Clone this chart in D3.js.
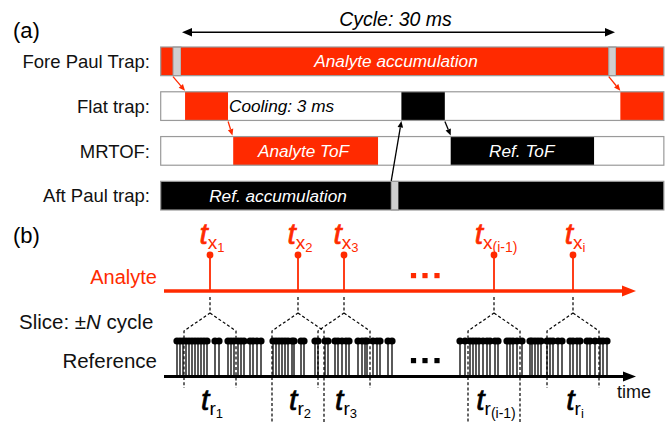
<!DOCTYPE html>
<html><head><meta charset="utf-8">
<script src="https://cdn.jsdelivr.net/npm/d3@7"></script>
<style>body{margin:0;background:#fff} svg{display:block;font-family:"Liberation Sans",Arial,sans-serif}</style>
</head><body><svg id="c" width="672" height="422"></svg>
<script>
// ---------- data: (a) timing scheme, times in ms ----------
const rows = ["Fore Paul Trap:", "Flat trap:", "MRTOF:", "Aft Paul trap:"];
const cycleMs = [0, 30];
const timeSpan = [-1.4, 33.3];
// [start, end, kind]  r=red(analyte) k=black(reference) g=gray(transfer) w=idle
const foreSegs  = [[-1.4,-0.55,"r"],[-0.55,0,"g"],[0,29.5,"r"],[29.5,30,"g"],[30,33.3,"r"]];
const flatSegs  = [[-1.4,0.28,"w"],[0.28,3.25,"r"],[3.25,15.2,"w"],[15.2,18.2,"k"],[18.2,30.3,"w"],[30.3,33.3,"r"]];
const mrtofSegs = [[-1.4,3.6,"w"],[3.6,13.6,"r"],[13.6,18.6,"w"],[18.6,28.5,"k"],[28.5,33.3,"w"]];
const aftSegs   = [[-1.4,14.5,"k"],[14.5,15,"g"],[15,33.3,"k"]];
// [row, time, text, anchor, color]
const barLabels = [[0,14.83,"Analyte accumulation","middle","w"],[1,3.31,"Cooling: 3 ms","start","k"],
                   [2,8.45,"Analyte ToF","middle","w"],[2,23.5,"Ref. ToF","middle","w"],[3,6.69,"Ref. accumulation","middle","w"]];
// [fromRow, fromTime, toRow, toTime, color]
const transfers = [[0,-0.55,1,0.28,"r"],[1,3.25,2,3.55,"r"],[0,29.5,1,30.3,"r"],[3,14.5,1,15.2,"k"],[1,18.2,2,18.6,"k"]];

// ---------- data: (b) analyte / reference events (arbitrary time units) ----------
const timeAxis = [0, 47.2];
const analyteTimes = [4.6, 13.4, 18.0, 33.0, 40.9];
const analyteIdx = ["1", "2", "3", "(i-1)", "i"];
const refTimes = [1.3,1.6,1.9,2.2,2.5,2.8,3.1,3.4,3.7,4.0,4.3,5.1,5.5,6.4,6.7,7.0,7.4,7.7,8.0,8.6,8.9,9.3,9.7,
  10.9,11.2,11.5,11.8,12.1,12.4,12.8,13.0,13.7,14.0,15.1,15.4,16.1,16.4,17.1,17.4,17.8,18.2,18.5,19.4,19.8,20.1,20.3,20.9,21.3,21.6,22.4,22.8,
  29.6,30.1,30.6,30.9,31.2,31.5,31.9,32.3,32.6,33.1,33.4,34.3,34.6,34.9,35.3,35.8,
  36.6,36.8,37.1,37.4,37.7,38.3,38.6,38.9,39.4,39.8,40.6,40.9,41.3,41.6,42.3,42.6,43.1,43.6,43.9,44.3];
const sliceHalf = 2.6;
const ellipsis = [24.95, 26.1, 27.3];

// ---------- drawing ----------
const RED = "#ff2a00";
const col = {r: RED, k: "#000", g: "#cfcfcf", w: "#fff"};
const svg = d3.select("#c");
const xA = d3.scaleLinear().domain(cycleMs).range([181, 616]);
const yA = d3.scaleBand().domain(d3.range(rows.length)).range([47, 210]).paddingInner(0.36);
const bw = yA.bandwidth();

svg.append("text").attr("x", 13).attr("y", 38).attr("font-size", 22).text("(a)");

function arrowHead(g, x, y, dir, len, half, color) {
  g.append("path").attr("d", `M${x},${y}L${x - dir*len},${y-half}L${x - dir*len},${y+half}Z`).attr("fill", color);
}
const cy = 32.3;
svg.append("line").attr("x1", xA(cycleMs[0]) + 6).attr("x2", xA(cycleMs[1]) - 6).attr("y1", cy).attr("y2", cy)
  .attr("stroke", "#000").attr("stroke-width", 1.6);
arrowHead(svg, xA(cycleMs[0]) + 1, cy, -1, 10, 4.2, "#000");
arrowHead(svg, xA(cycleMs[1]) - 1, cy, 1, 10, 4.2, "#000");
svg.append("text").attr("x", xA(15) - 3).attr("y", 26).attr("text-anchor", "middle")
  .attr("font-size", 19.5).attr("font-style", "italic").text("Cycle: 30 ms");

const allSegs = [foreSegs, flatSegs, mrtofSegs, aftSegs];
allSegs.forEach((segs, i) => {
  const g = svg.append("g");
  g.selectAll("rect").data(segs).join("rect")
    .attr("x", d => xA(d[0])).attr("width", d => xA(d[1]) - xA(d[0]))
    .attr("y", yA(i)).attr("height", bw)
    .attr("fill", d => col[d[2]])
    .attr("stroke", d => d[2] === "g" ? "#9a9a9a" : "none").attr("stroke-width", 1);
  g.append("rect").attr("x", xA(timeSpan[0])).attr("width", xA(timeSpan[1]) - xA(timeSpan[0]))
    .attr("y", yA(i)).attr("height", bw).attr("fill", "none").attr("stroke", "#9a9a9a").attr("stroke-width", 1.2);
  svg.append("text").attr("x", 150).attr("y", yA(i) + bw/2 + 6.7).attr("text-anchor", "end")
    .attr("font-size", 18.5).attr("fill", "#111").text(rows[i]);
});

svg.selectAll("text.bl").data(barLabels).join("text").attr("class", "bl")
  .attr("x", d => xA(d[1])).attr("y", d => yA(d[0]) + bw/2 + 6)
  .attr("text-anchor", d => d[3]).attr("font-size", 17.2).attr("font-style", "italic")
  .attr("fill", d => d[4] === "w" ? "#fff" : "#000").text(d => d[2]);

transfers.forEach(d => {
  const down = d[2] > d[0];
  const x1 = xA(d[1]), x2 = xA(d[3]);
  const y1 = down ? yA(d[0]) + bw + 1 : yA(d[0]) - 0.5;
  const y2 = down ? yA(d[2]) - 1 : yA(d[2]) + bw + 0.5;
  const c = col[d[4]];
  const ang = Math.atan2(y2 - y1, x2 - x1), L = 6.5, H = 2.8;
  const bx = x2 - L*Math.cos(ang), by = y2 - L*Math.sin(ang);
  svg.append("line").attr("x1", x1).attr("y1", y1).attr("x2", bx).attr("y2", by)
    .attr("stroke", c).attr("stroke-width", 1.3);
  svg.append("path").attr("fill", c).attr("d",
    `M${x2},${y2}L${bx + H*Math.sin(ang)},${by - H*Math.cos(ang)}L${bx - H*Math.sin(ang)},${by + H*Math.cos(ang)}Z`);
});

// ---------- (b) ----------
const xB = d3.scaleLinear().domain(timeAxis).range([164, 636]);
const yAnaAxis = 291, yAnaDot = 255, yRefAxis = 376.5, yRefDot = 341;
svg.append("text").attr("x", 13).attr("y", 243).attr("font-size", 22).text("(b)");
svg.append("text").attr("x", 157).attr("y", 283.5).attr("text-anchor", "end").attr("font-size", 20).attr("fill", RED).text("Analyte");
const sl = svg.append("text").attr("x", 19).attr("y", 329).attr("font-size", 20.5).attr("fill", "#111");
sl.append("tspan").text("Slice: ±");
sl.append("tspan").attr("font-style", "italic").text("N");
sl.append("tspan").text(" cycle");
svg.append("text").attr("x", 157).attr("y", 368).attr("text-anchor", "end").attr("font-size", 20.5).attr("fill", "#111").text("Reference");
svg.append("text").attr("x", 617).attr("y", 398).attr("font-size", 18).attr("fill", "#111").text("time");

svg.append("line").attr("x1", xB(timeAxis[0])).attr("x2", xB(timeAxis[1]) - 10).attr("y1", yAnaAxis).attr("y2", yAnaAxis)
  .attr("stroke", RED).attr("stroke-width", 3.4);
arrowHead(svg, xB(timeAxis[1]), yAnaAxis, 1, 14, 5.5, RED);
svg.selectAll("line.as").data(analyteTimes).join("line").attr("class", "as")
  .attr("x1", d => xB(d)).attr("x2", d => xB(d)).attr("y1", yAnaDot).attr("y2", yAnaAxis)
  .attr("stroke", RED).attr("stroke-width", 1.8);
svg.selectAll("circle.ad").data(analyteTimes).join("circle").attr("class", "ad")
  .attr("cx", d => xB(d)).attr("cy", yAnaDot).attr("r", 3.4).attr("fill", RED);

function tLabel(x, y, sub, idx, color) {
  const t = svg.append("text").attr("x", x).attr("y", y).attr("text-anchor", "middle").attr("fill", color);
  t.append("tspan").attr("font-style", "italic").attr("font-size", 30)
    .attr("stroke", color).attr("stroke-width", 0.7).text("t");
  t.append("tspan").attr("font-size", 19).attr("dy", 5).text(sub);
  t.append("tspan").attr("font-size", idx.length > 1 ? 14 : 13).attr("dy", 3).text(idx);
}
analyteTimes.forEach((d, i) => {
  tLabel(xB(d) + 2, 244, "x", analyteIdx[i], RED);
  tLabel(xB(d) + 2, 410, "r", analyteIdx[i], "#000");
});

ellipsis.forEach(e => {
  svg.append("rect").attr("x", xB(e) - 2.6).attr("y", 273).attr("width", 5.2).attr("height", 5.2).attr("fill", RED);
  svg.append("rect").attr("x", xB(e) - 2.6).attr("y", 358).attr("width", 5.2).attr("height", 5.2).attr("fill", "#000");
});

svg.append("line").attr("x1", xB(timeAxis[0])).attr("x2", xB(timeAxis[1]) - 10).attr("y1", yRefAxis).attr("y2", yRefAxis)
  .attr("stroke", "#000").attr("stroke-width", 3);
arrowHead(svg, xB(timeAxis[1]), yRefAxis, 1, 13, 5, "#000");
svg.selectAll("line.rs").data(refTimes).join("line").attr("class", "rs")
  .attr("x1", d => xB(d)).attr("x2", d => xB(d)).attr("y1", yRefDot).attr("y2", yRefAxis)
  .attr("stroke", "#000").attr("stroke-width", 1.3);
svg.selectAll("circle.rd").data(refTimes).join("circle").attr("class", "rd")
  .attr("cx", d => xB(d)).attr("cy", yRefDot).attr("r", 3.6).attr("fill", "#000");

analyteTimes.forEach((d, i) => {
  const bottom = i % 2 === 1 ? 422 : 388;
  const xc = xB(d), xl = xB(d - sliceHalf), xr = xB(d + sliceHalf);
  const p = `M${xc},${yAnaAxis + 6}L${xc},313L${xl},331L${xl},${bottom}M${xc},313L${xr},331L${xr},${bottom}`;
  svg.append("path").attr("d", p).attr("fill", "none").attr("stroke", "#000")
    .attr("stroke-width", 1.2).attr("stroke-dasharray", "3,2.2");
});
</script></body></html>
